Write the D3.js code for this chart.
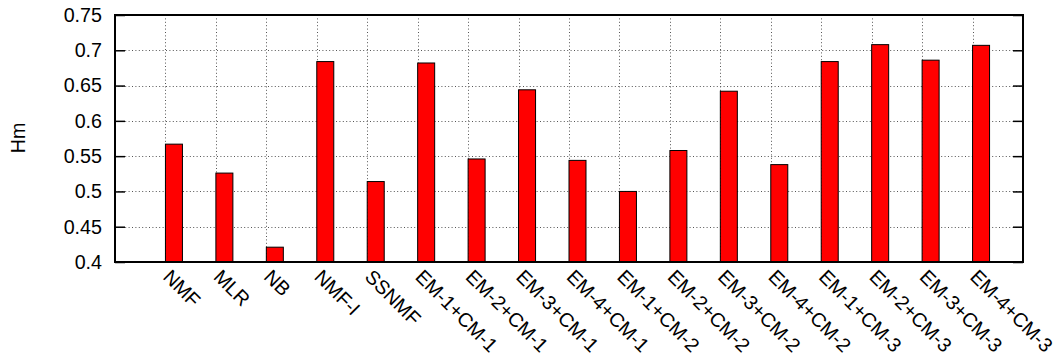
<!DOCTYPE html>
<html><head><meta charset="utf-8">
<script src="https://cdn.jsdelivr.net/npm/d3@7"></script>
<style>body{margin:0;background:#fff}svg{display:block}</style>
</head><body>
<svg id="chart" width="1056" height="360"></svg>
<script>
const categories = ["NMF","MLR","NB","NMF-I","SSNMF","EM-1+CM-1","EM-2+CM-1","EM-3+CM-1","EM-4+CM-1","EM-1+CM-2","EM-2+CM-2","EM-3+CM-2","EM-4+CM-2","EM-1+CM-3","EM-2+CM-3","EM-3+CM-3","EM-4+CM-3"];
const hmValues = [0.567,0.526,0.421,0.684,0.514,0.682,0.546,0.644,0.544,0.500,0.558,0.642,0.538,0.684,0.708,0.686,0.707];
const yTicks = [0.4,0.45,0.5,0.55,0.6,0.65,0.7,0.75];
const yTickLabels = ["0.4","0.45","0.5","0.55","0.6","0.65","0.7","0.75"];
const yLabel = "Hm";

const svg = d3.select("#chart");
const L = 115, R = 1023, T = 15, B = 262;
const font = "'Liberation Sans', Arial, sans-serif";
const fs = 19.7;

const x = d3.scaleLinear().domain([0, categories.length + 1]).range([L, R]);
const y = d3.scaleLinear().domain([0.4, 0.75]).range([B, T]);
const barW = 0.337;

// grid
const grid = svg.append("g").attr("stroke", "#555").attr("stroke-width", 1).attr("stroke-dasharray", "1,2.4");
grid.selectAll("line.h").data(yTicks.slice(1, -1)).join("line")
  .attr("x1", L).attr("x2", R).attr("y1", d => Math.round(y(d)) + 0.5).attr("y2", d => Math.round(y(d)) + 0.5);
grid.selectAll("line.v").data(categories).join("line")
  .attr("x1", (d, i) => Math.round(x(i + 1)) + 0.5).attr("x2", (d, i) => Math.round(x(i + 1)) + 0.5)
  .attr("y1", T).attr("y2", B);

// y axis ticks (left inward, mirrored right)
const yAxisL = d3.axisLeft(y).tickValues(yTicks).tickFormat((d, i) => yTickLabels[i]).tickSize(-10).tickPadding(13);
const gL = svg.append("g").attr("transform", `translate(${L},0)`).call(yAxisL);
gL.select(".domain").remove();
gL.selectAll("line").attr("stroke", "#000").attr("stroke-width", 1.5);
gL.selectAll("text").attr("x", -13).attr("font-family", font).attr("font-size", fs).attr("fill", "#000");

const gR = svg.append("g").attr("transform", `translate(${R},0)`)
  .call(d3.axisRight(y).tickValues(yTicks).tickFormat("").tickSize(-10));
gR.select(".domain").remove();
gR.selectAll("line").attr("stroke", "#000").attr("stroke-width", 1.5);

// bars
svg.append("g").selectAll("rect").data(hmValues).join("rect")
  .attr("x", (d, i) => x(i + 1))
  .attr("y", d => y(d))
  .attr("width", x(barW) - x(0))
  .attr("height", d => y(0.4) - y(d))
  .attr("fill", "#ff0000").attr("stroke", "#000").attr("stroke-width", 1);

// frame
svg.append("rect").attr("x", L).attr("y", T).attr("width", R - L).attr("height", B - T)
  .attr("fill", "none").attr("stroke", "#000").attr("stroke-width", 2);

// x labels
svg.append("g").selectAll("text").data(categories).join("text")
  .attr("transform", (d, i) => `translate(${x(i + 1) - 3.5},${B + 16}) rotate(45)`)
  .attr("font-family", font).attr("font-size", fs).attr("fill", "#000")
  .attr("text-anchor", "start")
  .text(d => d);

// y label
svg.append("text").attr("transform", `translate(18,138) rotate(-90)`)
  .attr("text-anchor", "middle").attr("dy", "0.35em")
  .attr("font-family", font).attr("font-size", fs).text(yLabel);
</script>
</body></html>
